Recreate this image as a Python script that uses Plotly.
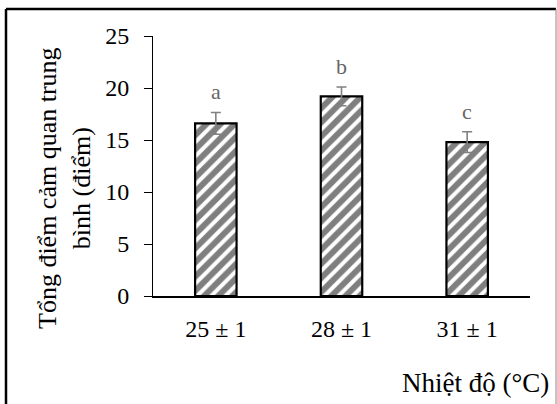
import plotly.graph_objects as go

categories = ["25 ± 1", "28 ± 1", "31 ± 1"]
values = [16.6, 19.2, 14.8]
errors = [1.05, 0.9, 1.0]
letters = ["a", "b", "c"]
y_ticks = [0, 5, 10, 15, 20, 25]

FONT = "Liberation Serif, Times New Roman, DejaVu Serif, serif"
W, H = 557, 404
L, R, T, B = 153, 27, 36, 108
pw, ph = W - L - R, H - T - B

def px_x(x):
    return (x - L) / pw

def px_y(y):
    return (H - B - y) / ph

fig = go.Figure()
fig.add_trace(go.Bar(
    x=categories, y=values, width=0.33,
    marker=dict(color="white", line=dict(color="black", width=2.2),
                pattern=dict(shape="/", fgcolor="black", bgcolor="white", size=10, solidity=0.6)),
    error_y=dict(type="data", array=errors, visible=True, color="#808080", thickness=1.6, width=5),
))

for c, v, e, t in zip(categories, values, errors, letters):
    fig.add_annotation(x=c, y=v + e, text=t, showarrow=False, yanchor="bottom", yshift=6,
                       font=dict(family=FONT, size=22, color="#666666"))

fig.add_annotation(xref="paper", yref="paper", x=px_x(551), y=px_y(383), text="Nhiệt độ (°C)",
                   showarrow=False, xanchor="right", yanchor="middle",
                   font=dict(family=FONT, size=27, color="black"))

fig.add_annotation(xref="paper", yref="paper", x=px_x(65), y=px_y(188),
                   text="Tổng điểm cảm quan trung<br>bình (điểm)", textangle=-90,
                   showarrow=False, xanchor="center", yanchor="middle",
                   font=dict(family=FONT, size=26, color="black"))

# outer frame
fig.add_shape(type="line", xref="paper", yref="paper", x0=px_x(6), x1=px_x(556), y0=px_y(9), y1=px_y(9),
              line=dict(color="black", width=2.5))
fig.add_shape(type="line", xref="paper", yref="paper", x0=px_x(6), x1=px_x(6), y0=px_y(9), y1=px_y(410),
              line=dict(color="black", width=2.5))
fig.add_shape(type="line", xref="paper", yref="paper", x0=px_x(556), x1=px_x(556), y0=px_y(9), y1=px_y(410),
              line=dict(color="#888888", width=1))

fig.update_layout(
    width=W, height=H, margin=dict(l=L, r=R, t=T, b=B),
    paper_bgcolor="white", plot_bgcolor="white", showlegend=False,
    font=dict(family=FONT, size=24, color="black"),
    xaxis=dict(showline=True, linecolor="black", linewidth=1.5, ticks="", showgrid=False,
               tickfont=dict(family=FONT, size=24), ticklabelstandoff=10),
    yaxis=dict(range=[0, 25], tickvals=y_ticks, showline=True, linecolor="black", linewidth=1,
               ticks="outside", ticklen=8, tickcolor="black", showgrid=False, zeroline=False,
               tickfont=dict(family=FONT, size=24), ticklabelstandoff=10),
)

fig.write_html("out.html")
